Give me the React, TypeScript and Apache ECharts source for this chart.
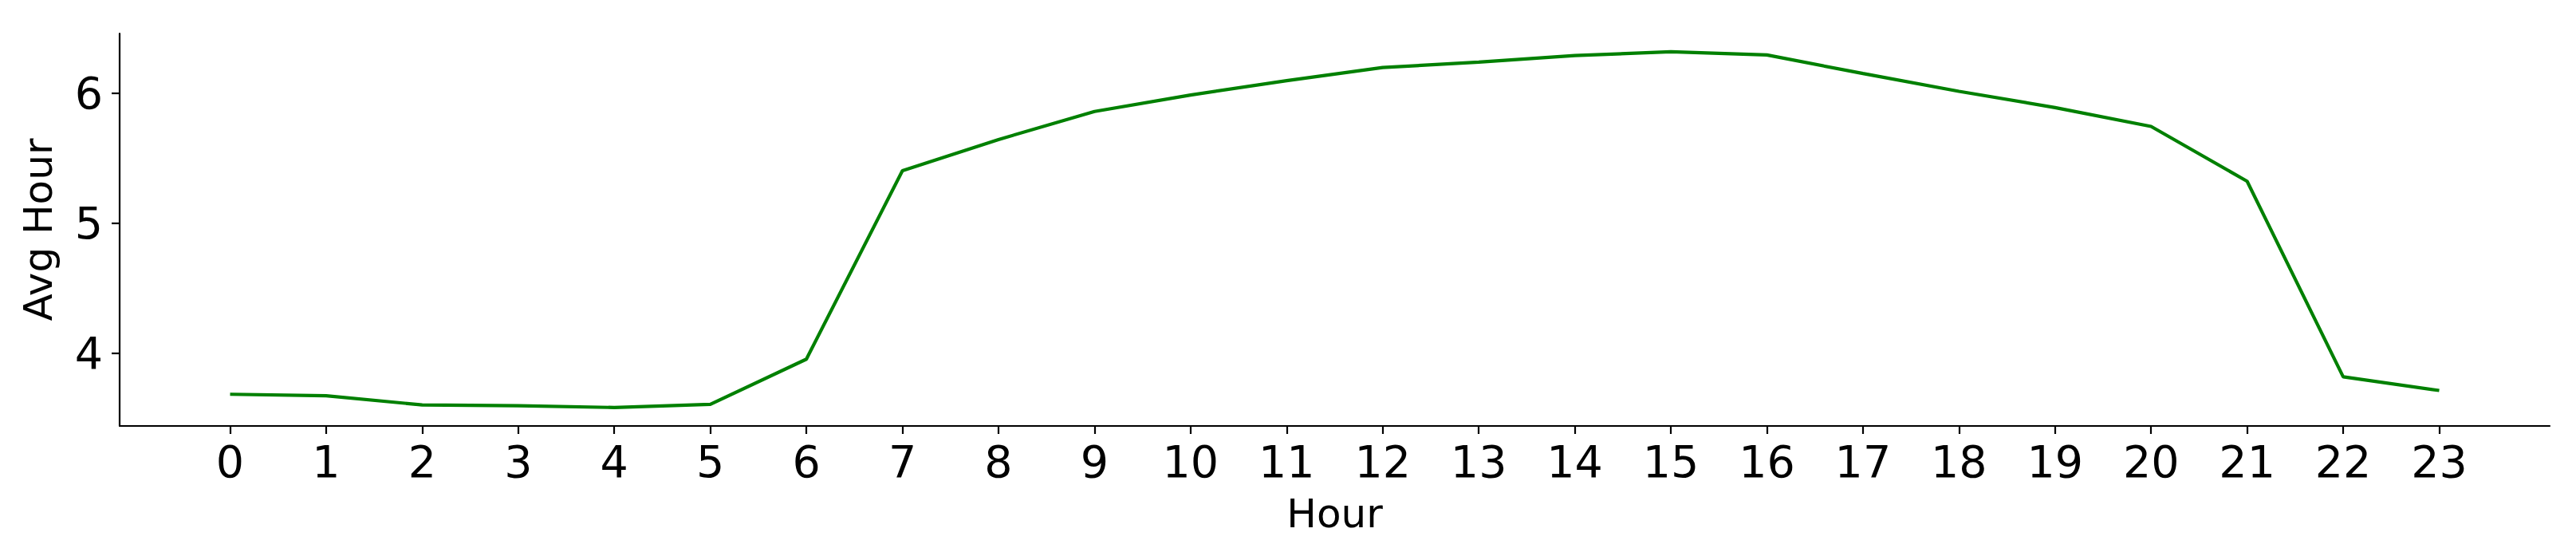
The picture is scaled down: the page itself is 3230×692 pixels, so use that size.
import React, { useEffect, useRef } from "react";
import * as echarts from "echarts";

const hours: number[] = [0, 1, 2, 3, 4, 5, 6, 7, 8, 9, 10, 11, 12, 13, 14, 15, 16, 17, 18, 19, 20, 21, 22, 23];
const avgHour: number[] = [3.684, 3.673, 3.602, 3.596, 3.582, 3.607, 3.954, 5.404, 5.644, 5.86, 5.987, 6.097, 6.198, 6.24, 6.29, 6.319, 6.295, 6.152, 6.015, 5.89, 5.745, 5.323, 3.818, 3.713];
const yTicks: number[] = [4, 5, 6];
const xName = "Hour";
const yName = "Avg Hour";

export default function App() {
  const ref = useRef<HTMLDivElement>(null);
  useEffect(() => {
    if (!ref.current) return;
    const chart = echarts.init(ref.current, null, { renderer: "svg" });
    const font = "DejaVu Sans";
    const axisLineStyle = { color: "#000", width: 2.2 };
    chart.setOption({
      animation: false,
      backgroundColor: "#fff",
      grid: { left: 150, right: 33, top: 42, bottom: 158, containLabel: false },
      xAxis: {
        type: "value",
        min: -1.15,
        max: 24.15,
        name: xName,
        nameLocation: "middle",
        nameGap: 85,
        nameTextStyle: { fontFamily: font, fontSize: 50, color: "#000" },
        splitLine: { show: false },
        axisLine: { show: true, onZero: false, lineStyle: axisLineStyle },
        axisTick: { show: true, length: 10, lineStyle: axisLineStyle, customValues: hours },
        axisLabel: {
          show: true,
          customValues: hours,
          margin: 16,
          fontFamily: font,
          fontSize: 55.5,
          color: "#000",
          formatter: (v: number) => String(Math.round(v)),
        },
      },
      yAxis: {
        type: "value",
        min: 3.44,
        max: 6.46,
        name: yName,
        nameLocation: "middle",
        nameRotate: 90,
        nameGap: 77,
        nameTextStyle: { fontFamily: font, fontSize: 50, color: "#000" },
        splitLine: { show: false },
        axisLine: { show: true, onZero: false, lineStyle: axisLineStyle },
        axisTick: { show: true, length: 10, lineStyle: axisLineStyle, customValues: yTicks },
        axisLabel: {
          show: true,
          customValues: yTicks,
          margin: 21,
          fontFamily: font,
          fontSize: 55.5,
          color: "#000",
          formatter: (v: number) => String(Math.round(v)),
        },
      },
      series: [
        {
          type: "line",
          data: hours.map((h, i) => [h, avgHour[i]]),
          showSymbol: false,
          symbol: "none",
          lineStyle: { color: "#008000", width: 4.2 },
          itemStyle: { color: "#008000" },
        },
      ],
    });
    return () => chart.dispose();
  }, []);
  return (
    <div
      ref={ref}
      style={{ position: "fixed", left: 0, top: 0, width: 3230, height: 692, background: "#fff" }}
    />
  );
}
